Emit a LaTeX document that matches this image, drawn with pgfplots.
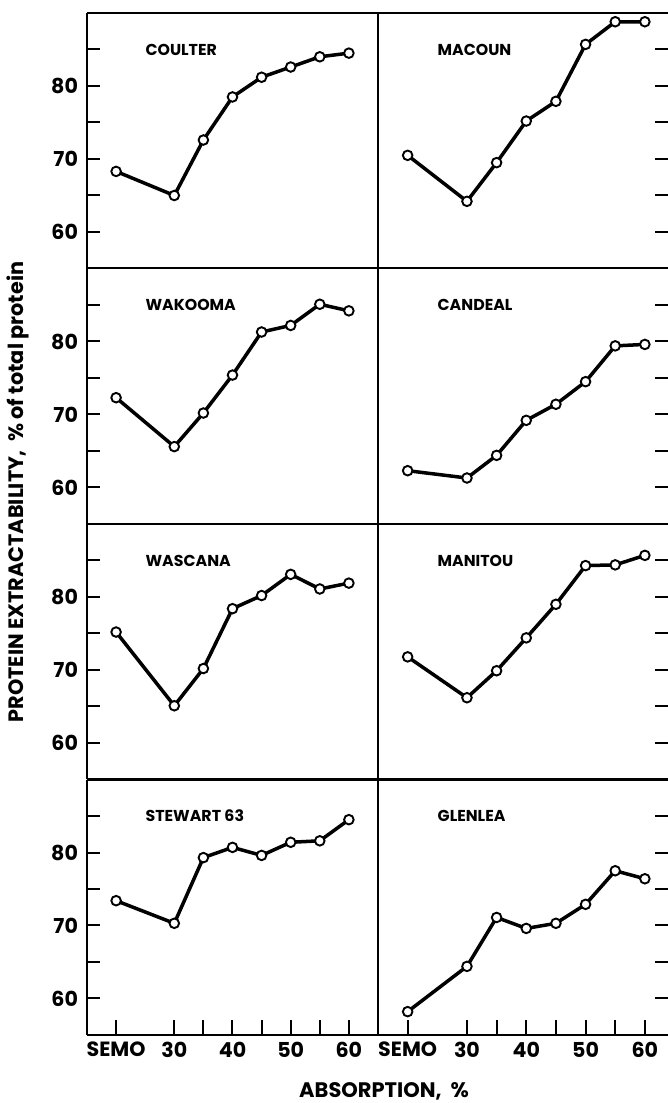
\documentclass[border=0pt]{standalone}
\usepackage{fontspec}
\setmainfont{Poppins}
\usepackage{pgfplots}
\pgfplotsset{compat=1.18}

\tikzset{ptitle/.style={anchor=west, inner sep=0pt, font=\bfseries\fontsize{7.9}{9}\selectfont}}
\pgfplotsset{
  panel/.style={
    scale only axis, width=145.5pt, height=127.75pt, anchor=south west,
    xmin=15, xmax=65, ymin=55, ymax=90,
    separate axis lines,
    axis line style={line width=1pt},
    ytick={60,70,80}, minor ytick={65,75,85},
    tick align=inside,
    major tick length=6.5pt, minor tick length=6.5pt,
    every tick/.style={black, line width=1pt},
    xtick=\empty,
    yticklabel style={font=\bfseries\fontsize{10.3}{12}\selectfont, xshift=-1pt},
    xticklabel style={font=\bfseries\fontsize{10.3}{12}\selectfont},
    /pgf/number format/assume math mode=true,
    clip=false,
  },
  leftpanel/.style={panel, ytick pos=left, yticklabels={60,70,80}},
  rightpanel/.style={panel, xmax=63.9, width=145pt, ytick pos=right, yticklabels={},
    y axis line style={draw=none}},
  bottompanel/.style={xtick={20,30,35,40,45,50,55,60},
    xticklabels={SEMO,30,,40,,50,,60}, xtick pos=bottom,
    xtick style={/pgfplots/major tick length=7.5pt}},
  series/.style={black, line width=1.75pt, mark=*, mark size=2.4pt,
    mark options={fill=white, draw=black, line width=0.95pt}},
}

\begin{document}
\begin{tikzpicture}
% ---- right column ----
\begin{axis}[rightpanel, at={(189pt,417.25pt)}]
\addplot[series] coordinates {(20,70.5) (30,64.2) (35,69.5) (40,75.2) (45,77.9) (50,85.7) (55,88.8) (60,88.8)};
\node[ptitle] at (axis cs:25,85) {MACOUN};
\end{axis}
\begin{axis}[rightpanel, at={(189pt,289.5pt)}]
\addplot[series] coordinates {(20,62.3) (30,61.3) (35,64.4) (40,69.2) (45,71.4) (50,74.5) (55,79.4) (60,79.6)};
\node[ptitle] at (axis cs:25,85) {CANDEAL};
\end{axis}
\begin{axis}[rightpanel, at={(189pt,161.75pt)}]
\addplot[series] coordinates {(20,71.8) (30,66.2) (35,69.9) (40,74.4) (45,79.0) (50,84.3) (55,84.4) (60,85.7)};
\node[ptitle] at (axis cs:25,85) {MANITOU};
\end{axis}
\begin{axis}[rightpanel, bottompanel, at={(189pt,34pt)}]
\addplot[series] coordinates {(20,58.2) (30,64.4) (35,71.1) (40,69.6) (45,70.3) (50,72.9) (55,77.5) (60,76.4)};
\node[ptitle] at (axis cs:25,85) {GLENLEA};
\end{axis}
% ---- left column ----
\begin{axis}[leftpanel, at={(43.5pt,417.25pt)}]
\addplot[series] coordinates {(20,68.3) (30,65.0) (35,72.6) (40,78.5) (45,81.2) (50,82.6) (55,84.0) (60,84.5)};
\node[ptitle] at (axis cs:25,85) {COULTER};
\end{axis}
\begin{axis}[leftpanel, at={(43.5pt,289.5pt)}]
\addplot[series] coordinates {(20,72.3) (30,65.6) (35,70.2) (40,75.4) (45,81.3) (50,82.2) (55,85.1) (60,84.2)};
\node[ptitle] at (axis cs:25,85) {WAKOOMA};
\end{axis}
\begin{axis}[leftpanel, at={(43.5pt,161.75pt)}]
\addplot[series] coordinates {(20,75.2) (30,65.1) (35,70.2) (40,78.4) (45,80.2) (50,83.1) (55,81.1) (60,81.9)};
\node[ptitle] at (axis cs:25,85) {WASCANA};
\end{axis}
\begin{axis}[leftpanel, bottompanel, at={(43.5pt,34pt)}]
\addplot[series] coordinates {(20,73.4) (30,70.3) (35,79.3) (40,80.7) (45,79.6) (50,81.4) (55,81.6) (60,84.5)};
\node[ptitle] at (axis cs:25,85) {STEWART 63};
\end{axis}
% ---- shared labels ----
\node[rotate=90, font=\bfseries\fontsize{10.4}{12}\selectfont] at (9pt,305.5pt)
  {PROTEIN EXTRACTABILITY,\ \ \% of total protein};
\node[font=\bfseries\fontsize{10.5}{12}\selectfont] at (192pt,6pt) {ABSORPTION,\ \ \%};
\pgfresetboundingbox
\useasboundingbox (0,0) rectangle (334pt,551.5pt);
\end{tikzpicture}
\end{document}
